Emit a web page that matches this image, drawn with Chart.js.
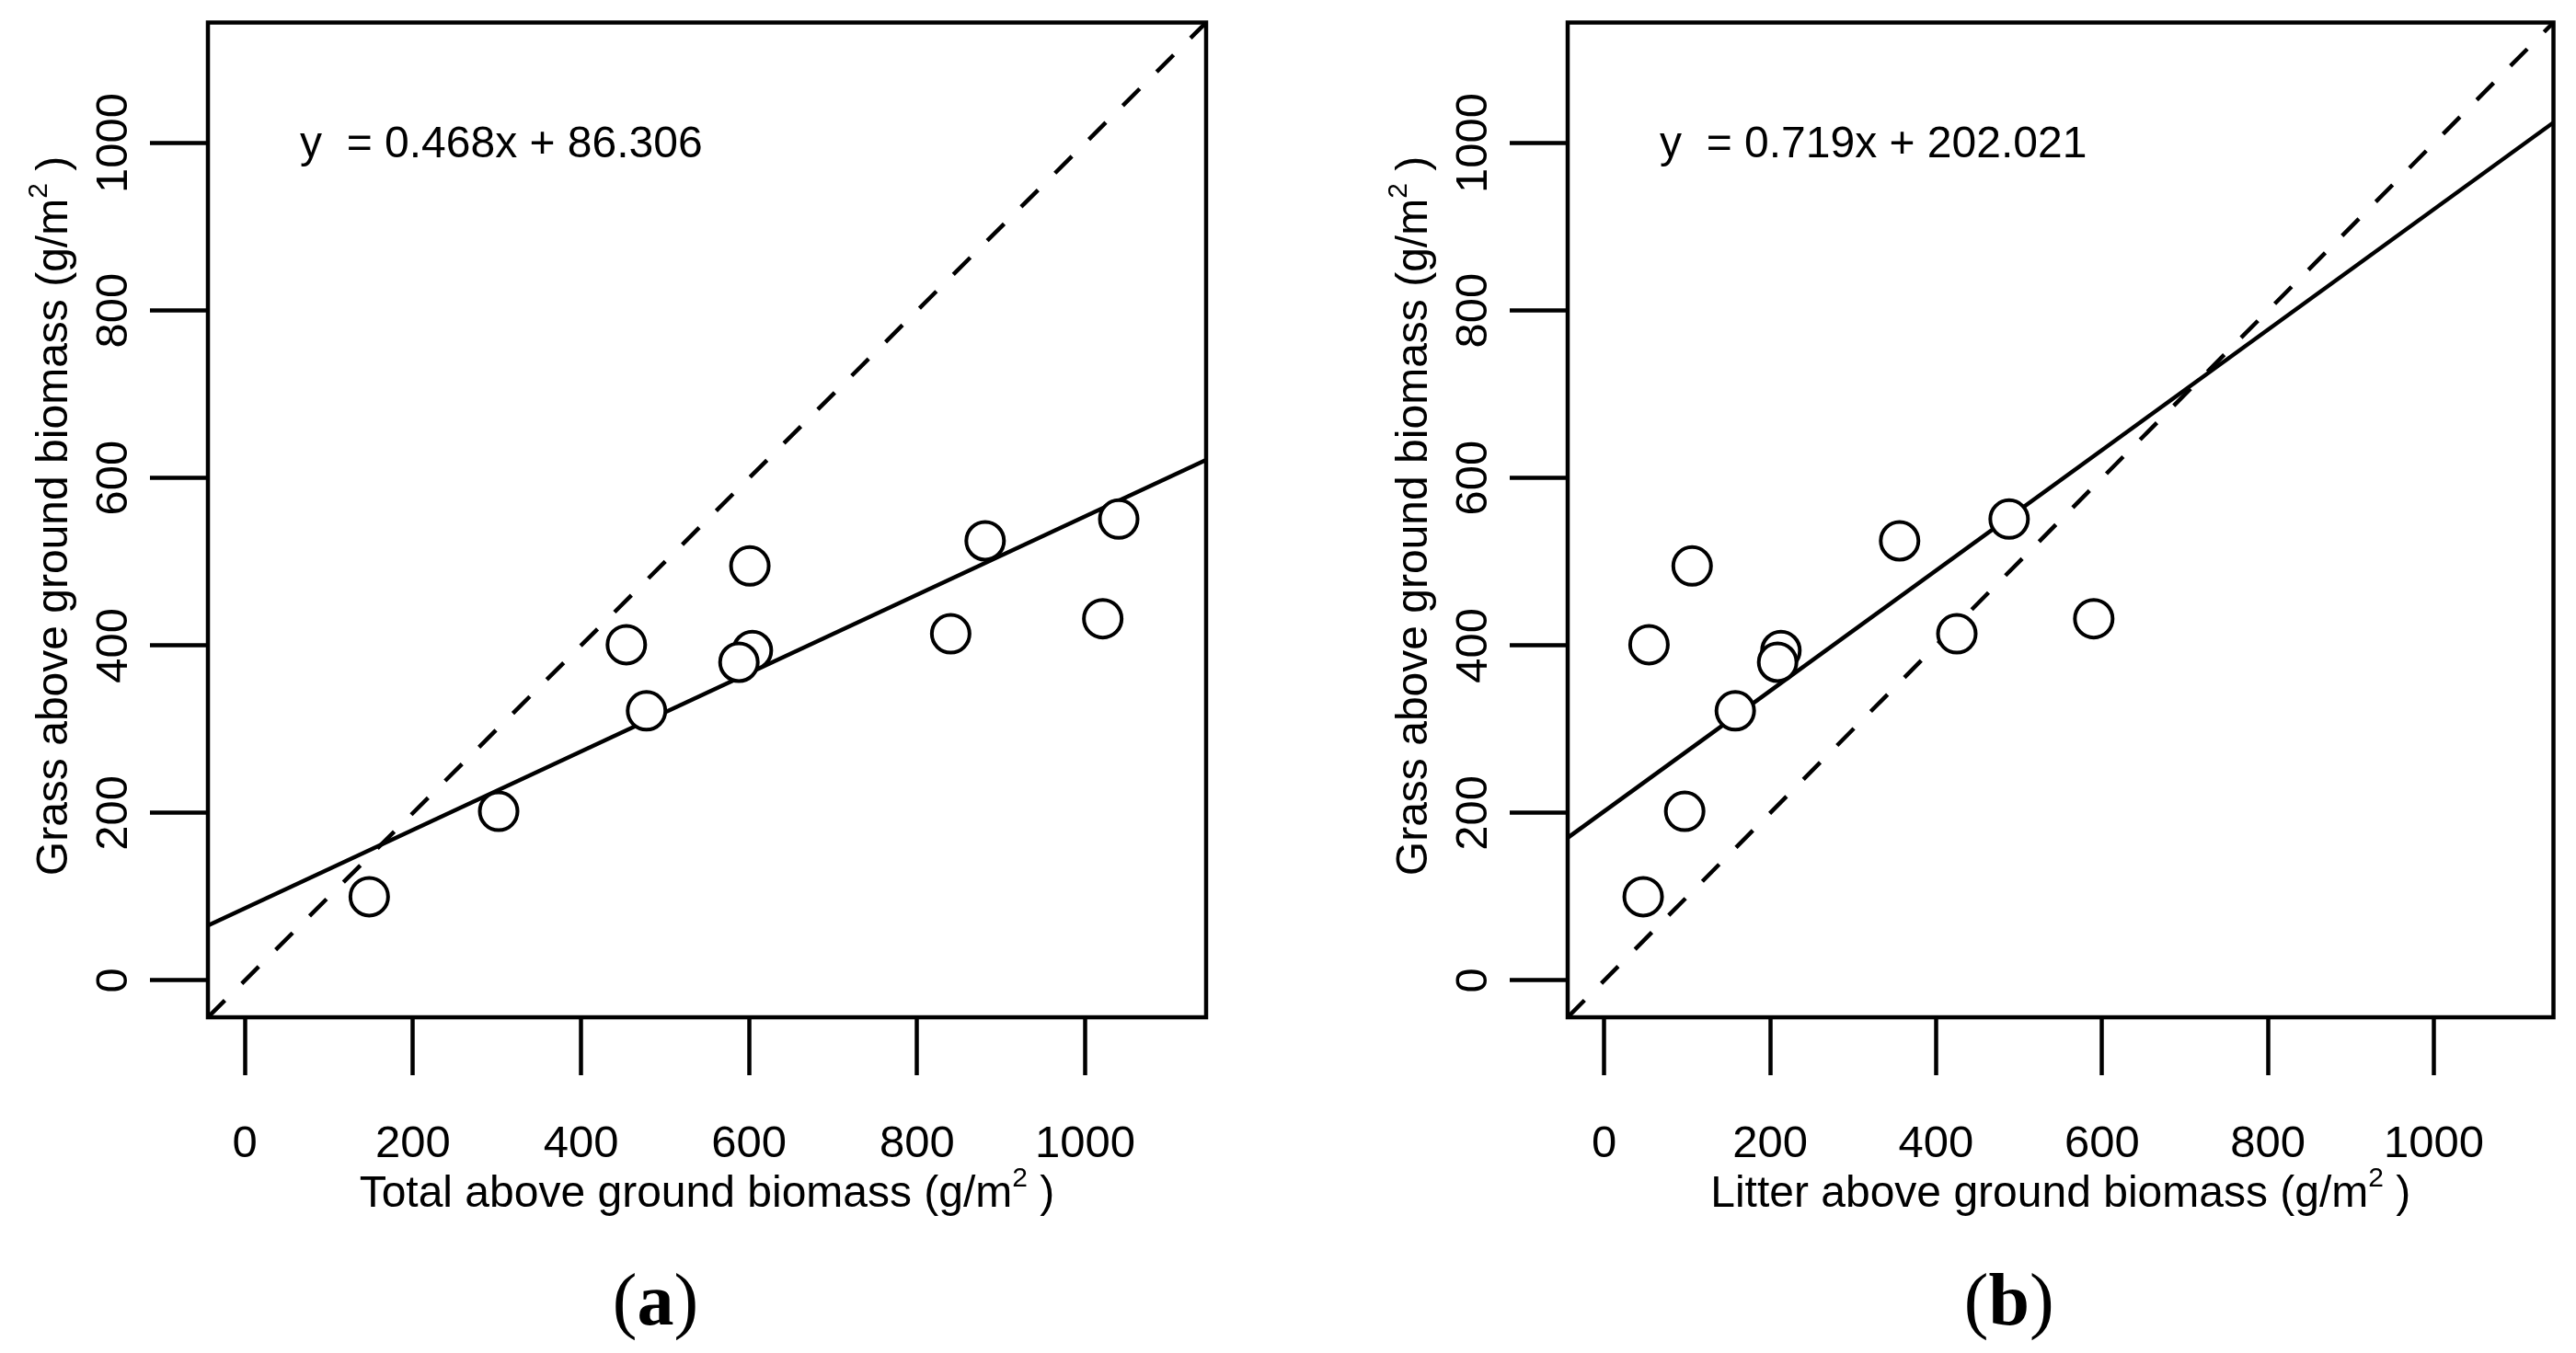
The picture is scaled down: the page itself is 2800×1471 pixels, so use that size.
<!DOCTYPE html>
<html>
<head>
<meta charset="utf-8">
<script src="https://cdn.jsdelivr.net/npm/chart.js@4/dist/chart.umd.min.js"></script>
<style>
  html, body { margin: 0; padding: 0; background: #ffffff; }
  body { width: 2800px; height: 1471px; position: relative; overflow: hidden; }
  canvas { position: absolute; top: 0; }
  #chartA { left: 0; }
  #chartB { left: 1400px; }
</style>
</head>
<body>
<canvas id="chartA" width="1400" height="1471"></canvas>
<canvas id="chartB" width="1400" height="1471"></canvas>
<script>
// ---------- data ----------
const grassY  = [100, 202, 401, 322, 394, 380, 495, 414, 525, 432, 551];
const totalX  = [148, 302, 454, 478, 604, 588, 601, 840, 881, 1021, 1040];
const litterX = [47, 97, 54, 158, 213, 209, 106, 425, 356, 590, 488];

const xTicks = [0, 200, 400, 600, 800, 1000];
const yTicks = [0, 200, 400, 600, 800, 1000];
const tickLabels = ["0", "200", "400", "600", "800", "1000"];
const axisMin = -44;
const axisMax = 1144;

// fitted lines (end points at the axis limits, from the printed equations)
const fitTotalX  = [-44, 1144];
const fitTotalY  = [65.7, 621.7];
const fitLitterX = [-44, 1144];
const fitLitterY = [170.4, 1024.6];
// 1:1 line
const identityX = [-44, 1144];
const identityY = [-44, 1144];

const equationA = "y  = 0.468x + 86.306";
const equationB = "y  = 0.719x + 202.021";
const xTitleA = "Total above ground biomass (g/m";
const xTitleB = "Litter above ground biomass (g/m";
const yTitle  = "Grass above ground biomass (g/m";
const unitSup = "2";
const unitTail = " )";
const panelA = "a";
const panelB = "b";

const SANS = "'Liberation Sans', Arial, sans-serif";
const SERIF = "'Liberation Serif', 'Times New Roman', serif";

function pts(xs, ys) { return xs.map((x, i) => ({ x: x, y: ys[i] })); }
function tickText(value, ticksArr) {
  const i = ticksArr.indexOf(value);
  return i >= 0 ? tickLabels[i] : "";
}

function drawUnitTitle(ctx, main, cx, baseline) {
  ctx.font = "48px " + SANS;
  const wMain = ctx.measureText(main).width;
  const wTail = ctx.measureText(unitTail).width;
  ctx.font = "30px " + SANS;
  const wSup = ctx.measureText(unitSup).width;
  const total = wMain + wSup + wTail;
  let x = cx - total / 2;
  ctx.textAlign = "left";
  ctx.textBaseline = "alphabetic";
  ctx.font = "48px " + SANS;
  ctx.fillText(main, x, baseline);
  ctx.font = "30px " + SANS;
  ctx.fillText(unitSup, x + wMain, baseline - 22);
  ctx.font = "48px " + SANS;
  ctx.fillText(unitTail, x + wMain + wSup, baseline);
}

const decorPlugin = {
  id: 'decor',
  afterDraw(chart, args, opts) {
    const ctx = chart.ctx;
    const a = chart.chartArea;
    ctx.save();
    // box
    ctx.strokeStyle = "#000";
    ctx.lineWidth = 4.5;
    ctx.strokeRect(a.left, a.top, a.right - a.left, a.bottom - a.top);
    ctx.fillStyle = "#000";
    // equation
    ctx.font = "48px " + SANS;
    ctx.textAlign = "left";
    ctx.textBaseline = "alphabetic";
    ctx.fillText(opts.equation, a.left + 100, 171);
    // x title
    const cx = (a.left + a.right) / 2;
    drawUnitTitle(ctx, opts.xTitle, cx, 1312);
    // y title (rotated)
    ctx.save();
    ctx.translate(a.left - 153, 561);
    ctx.rotate(-Math.PI / 2);
    drawUnitTitle(ctx, yTitle, 0, 0);
    ctx.restore();
    // panel label "(a)"
    ctx.textBaseline = "alphabetic";
    ctx.textAlign = "left";
    ctx.font = "80px " + SERIF;
    const wp = ctx.measureText("(").width;
    const wq = ctx.measureText(")").width;
    ctx.font = "bold 80px " + SERIF;
    const wl = ctx.measureText(opts.panel).width;
    let px = cx - 56 - (wp + wl + wq) / 2;
    ctx.font = "80px " + SERIF;
    ctx.fillText("(", px, 1440);
    ctx.font = "bold 80px " + SERIF;
    ctx.fillText(opts.panel, px + wp, 1440);
    ctx.font = "80px " + SERIF;
    ctx.fillText(")", px + wp + wl, 1440);
    ctx.restore();
  }
};

function makePanel(id, xs, fitX, fitY, equation, xTitle, panel, yAxisWidth, padRight) {
  const ctx = document.getElementById(id).getContext('2d');
  return new Chart(ctx, {
    type: 'scatter',
    data: {
      datasets: [
        {
          label: 'points',
          data: pts(xs, grassY),
          order: 0,
          pointStyle: 'circle',
          pointRadius: 20.5,
          pointHoverRadius: 20.5,
          borderWidth: 4,
          pointBorderWidth: 4,
          borderColor: '#000',
          backgroundColor: '#fff',
          pointBackgroundColor: '#fff',
          pointBorderColor: '#000',
          showLine: false
        },
        {
          label: 'fit',
          data: pts(fitX, fitY),
          order: 1,
          showLine: true,
          pointRadius: 0,
          borderColor: '#000',
          borderWidth: 4.5,
          fill: false
        },
        {
          label: 'one-to-one',
          data: pts(identityX, identityY),
          order: 2,
          showLine: true,
          pointRadius: 0,
          borderColor: '#000',
          borderWidth: 4.5,
          borderDash: [26, 26],
          fill: false
        }
      ]
    },
    options: {
      responsive: false,
      animation: false,
      devicePixelRatio: 1,
      layout: { padding: { top: 23, right: padRight, left: 0, bottom: 0 } },
      plugins: {
        legend: { display: false },
        tooltip: { enabled: false },
        decor: { equation: equation, xTitle: xTitle, panel: panel }
      },
      scales: {
        x: {
          type: 'linear',
          min: axisMin,
          max: axisMax,
          afterBuildTicks(scale) { scale.ticks = xTicks.map(v => ({ value: v })); },
          afterFit(scale) { scale.height = 365; },
          grid: {
            drawOnChartArea: false,
            drawTicks: true,
            tickLength: 63,
            tickWidth: 4.5,
            tickColor: '#000'
          },
          border: { display: false },
          ticks: {
            autoSkip: false,
            maxRotation: 0,
            minRotation: 0,
            padding: 46,
            color: '#000',
            font: { family: SANS, size: 49 },
            callback: (value) => tickText(value, xTicks)
          },
          title: { display: false }
        },
        y: {
          type: 'linear',
          min: axisMin,
          max: axisMax,
          afterBuildTicks(scale) { scale.ticks = yTicks.map(v => ({ value: v })); },
          afterFit(scale) { scale.width = yAxisWidth; },
          grid: {
            drawOnChartArea: false,
            drawTicks: true,
            tickLength: 63,
            tickWidth: 4.5,
            tickColor: '#000'
          },
          border: { display: false },
          ticks: {
            autoSkip: false,
            minRotation: 90,
            maxRotation: 90,
            crossAlign: 'center',
            padding: -16,
            color: '#000',
            font: { family: SANS, size: 49 },
            callback: (value) => tickText(value, yTicks)
          },
          title: { display: false }
        }
      }
    },
    plugins: [decorPlugin]
  });
}

makePanel('chartA', totalX, fitTotalX, fitTotalY, equationA, xTitleA, panelA, 226, 89);
makePanel('chartB', litterX, fitLitterX, fitLitterY, equationB, xTitleB, panelB, 304, 11);
</script>
</body>
</html>
